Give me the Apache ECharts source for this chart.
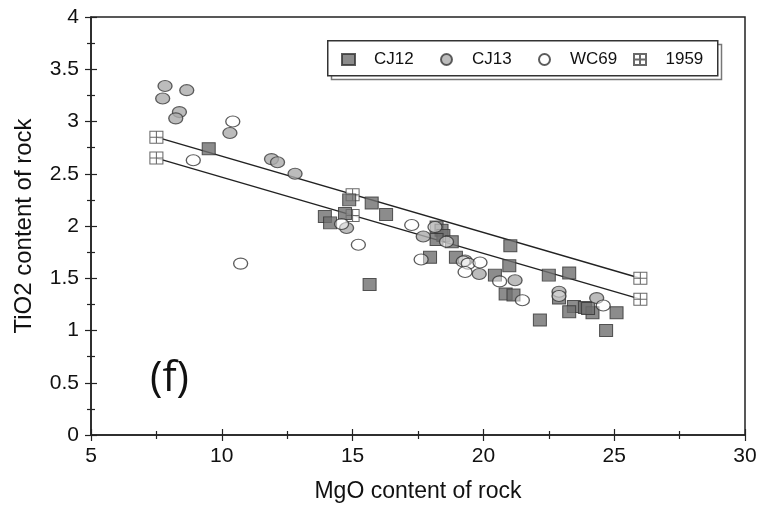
<!DOCTYPE html>
<html><head><meta charset="utf-8">
<script src="https://cdn.jsdelivr.net/npm/echarts@6/dist/echarts.min.js"></script>
<style>html,body{margin:0;padding:0;background:#fff}#c{width:764px;height:511px}</style>
</head><body><div id="c"></div>
<script>
var xTicks = [5, 10, 15, 20, 25, 30];
var yTicks = [0, 0.5, 1, 1.5, 2, 2.5, 3, 3.5, 4];
var seriesNames = ['CJ12', 'CJ13', 'WC69', '1959'];
var cj12 = [[9.5,2.74],[14.87,2.25],[15.73,2.22],[13.94,2.09],[16.28,2.11],[14.14,2.03],[14.71,2.12],[15.65,1.44],
  [18.21,1.99],[18.4,1.96],[18.47,1.91],[18.21,1.87],[18.79,1.85],[17.96,1.70],[18.95,1.70],[20.44,1.53],[20.99,1.62],
  [21.03,1.81],[20.85,1.35],[21.15,1.34],[22.5,1.53],[23.28,1.55],[22.89,1.31],[23.46,1.23],[23.88,1.22],[23.28,1.18],
  [24.17,1.17],[25.09,1.17],[24.0,1.21],[22.16,1.10],[24.69,1.00]];
var cj13 = [[7.83,3.34],[8.66,3.30],[7.74,3.22],[8.38,3.09],[8.24,3.03],[10.31,2.89],[11.9,2.64],[12.13,2.61],[12.8,2.50],
  [14.77,1.98],[17.7,1.90],[19.3,1.67],[19.84,1.54],[21.21,1.48],[22.89,1.37],[24.33,1.31]];
var wc69 = [[10.42,3.0],[8.91,2.63],[10.72,1.64],[15.22,1.82],[14.58,2.02],[17.26,2.01],[18.15,1.99],[18.59,1.85],[17.62,1.68],
  [19.23,1.66],[19.42,1.64],[19.87,1.65],[19.3,1.56],[20.62,1.47],[21.49,1.29],[22.89,1.33],[24.58,1.24]];
var p1959 = [[7.5,2.85],[7.5,2.65],[15,2.3],[15,2.1],[26,1.5],[26,1.3]];
var upperLine = [[7.5,2.85],[26,1.5]];
var lowerLine = [[7.5,2.65],[26,1.3]];

var chart = echarts.init(document.getElementById('c'), null, {renderer: 'canvas'});
var F = '"Liberation Sans", Arial, sans-serif';
var axisCol = '#222';
var crossIcon = 'path://M0,0L12,0L12,11L0,11Z M6,0L6,11 M0,5.5L12,5.5';

function xAx(inside, show) {
  return {
    type: 'value', min: 5, max: 30, interval: 5, position: 'bottom',
    name: show ? 'MgO content of rock' : '', nameLocation: 'middle', nameGap: 45,
    nameTextStyle: {fontFamily: F, fontSize: 23, color: '#111'},
    axisLine: {show: show, onZero: false, lineStyle: {color: axisCol, width: 1.5}},
    axisTick: {show: true, inside: inside, length: 6, lineStyle: {color: axisCol, width: 1.2}},
    minorTick: {show: true, splitNumber: 2, length: 4, lineStyle: {color: axisCol, width: 1.2}},
    axisLabel: {show: show, fontFamily: F, fontSize: 21, color: '#111', margin: 11},
    splitLine: {show: false}
  };
}
function yAx(inside, show) {
  return {
    type: 'value', min: 0, max: 4, interval: 0.5, position: 'left',
    name: show ? 'TiO2 content of rock' : '', nameLocation: 'middle', nameGap: 55,
    nameTextStyle: {fontFamily: F, fontSize: 24, color: '#111'},
    axisLine: {show: show, onZero: false, lineStyle: {color: axisCol, width: 1.5}},
    axisTick: {show: true, inside: inside, length: 6, lineStyle: {color: axisCol, width: 1.2}},
    minorTick: {show: true, splitNumber: 2, length: 4, lineStyle: {color: axisCol, width: 1.2}},
    axisLabel: {show: show, fontFamily: F, fontSize: 21, color: '#111', margin: 12,
      formatter: function (v) { return String(v); }},
    splitLine: {show: false}
  };
}

function leg(name, left) {
  return {
    data: [name], left: left, top: 51, padding: 0, itemWidth: 13, itemHeight: 11,
    textStyle: {fontFamily: F, fontSize: 17, color: '#111', padding: [0, 0, 0, 14]},
    selectedMode: false
  };
}

chart.setOption({
  animation: false,
  backgroundColor: '#fff',
  grid: {left: 91, right: 19, top: 17, bottom: 76, show: true, borderColor: axisCol, borderWidth: 1.5, backgroundColor: 'transparent'},
  xAxis: [xAx(false, true), xAx(true, false)],
  yAxis: [yAx(false, true), yAx(true, false)],
  legend: [leg(seriesNames[0], 341), leg(seriesNames[1], 440), leg(seriesNames[2], 538), leg(seriesNames[3], 633)],
  graphic: [
    {type: 'rect', left: 329, top: 42, shape: {width: 390, height: 35}, style: {fill: 'none', stroke: '#777', lineWidth: 1.5}, z: 1},
    {type: 'rect', left: 327, top: 40, shape: {width: 390, height: 35}, style: {fill: '#fff', stroke: '#333', lineWidth: 1.5}, z: 2},
    {type: 'text', left: 150, top: 358, style: {text: '(f)', font: '42px "Open Sans", "Liberation Sans", sans-serif', fill: '#111'}, z: 5}
  ],
  series: [
    {type: 'line', data: upperLine, symbol: 'none', lineStyle: {color: '#222', width: 1.4}, z: 2, silent: true},
    {type: 'line', data: lowerLine, symbol: 'none', lineStyle: {color: '#222', width: 1.4}, z: 2, silent: true},
    {name: seriesNames[3], type: 'scatter', data: p1959, symbol: crossIcon, symbolSize: [13, 12], symbolKeepAspect: false,
      itemStyle: {color: '#fff', borderColor: '#444', borderWidth: 1}, z: 3},
    {name: seriesNames[0], type: 'scatter', data: cj12, symbol: 'rect', symbolSize: [13, 12],
      itemStyle: {color: '#6f6f6f', borderColor: '#333', borderWidth: 1}, z: 4},
    {name: seriesNames[1], type: 'scatter', data: cj13, symbol: 'circle', symbolSize: [14, 11],
      itemStyle: {color: '#ababab', borderColor: '#3a3a3a', borderWidth: 1.2}, z: 5},
    {name: seriesNames[2], type: 'scatter', data: wc69, symbol: 'circle', symbolSize: [14, 11],
      itemStyle: {color: 'rgba(255,255,255,0.6)', borderColor: '#333', borderWidth: 1.2}, z: 5}
  ]
});
</script>
</body></html>
